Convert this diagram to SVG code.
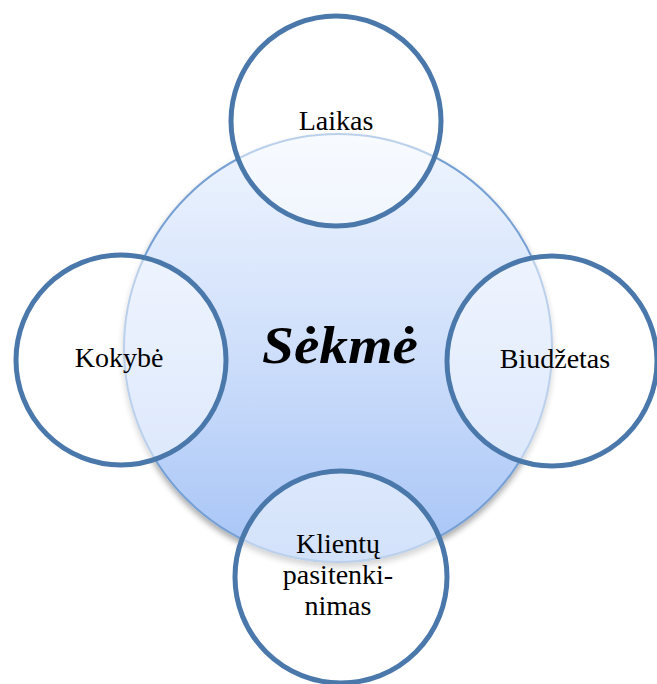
<svg xmlns="http://www.w3.org/2000/svg" width="657" height="684" viewBox="0 0 657 684">
  <defs>
    <linearGradient id="coreFill" x1="0" y1="0" x2="0" y2="1">
      <stop offset="0" stop-color="#eff5fe"/>
      <stop offset="0.5" stop-color="#cfdffb"/>
      <stop offset="1" stop-color="#a6c4f6"/>
    </linearGradient>
    <filter id="softShadow" x="-10%" y="-10%" width="120%" height="125%">
      <feGaussianBlur in="SourceAlpha" stdDeviation="3"/>
      <feOffset dx="0" dy="4" result="blur"/>
      <feComponentTransfer><feFuncA type="linear" slope="0.35"/></feComponentTransfer>
      <feMerge><feMergeNode/><feMergeNode in="SourceGraphic"/></feMerge>
    </filter>
  </defs>
  <style>
    .core { fill: url(#coreFill); stroke: #76a0d4; stroke-width: 2; }
    .ring { fill: #ffffff; fill-opacity: 0.5; stroke: #4a78ab; stroke-width: 5; }
    .label { font-family: "Liberation Serif", "Times New Roman", serif; font-size: 28px; fill: #000; text-anchor: middle; }
    .title { font-family: "Liberation Serif", "Times New Roman", serif; font-size: 52px; font-weight: bold; font-style: italic; fill: #000; text-anchor: middle; }
  </style>

  <rect width="657" height="684" fill="#ffffff"/>

  <g id="success">
    <circle class="core" cx="338" cy="348" r="214" filter="url(#softShadow)"/>
    <text class="title" x="340" y="363" textLength="156" lengthAdjust="spacingAndGlyphs">Sėkmė</text>
  </g>

  <g id="time">
    <circle class="ring" cx="336" cy="121" r="105"/>
    <text class="label" x="336" y="130">Laikas</text>
  </g>

  <g id="quality">
    <circle class="ring" cx="121" cy="360" r="105"/>
    <text class="label" x="119" y="367">Kokybė</text>
  </g>

  <g id="budget">
    <circle class="ring" cx="552" cy="361" r="105"/>
    <text class="label" x="555" y="368">Biudžetas</text>
  </g>

  <g id="satisfaction">
    <circle class="ring" cx="341" cy="577" r="106"/>
    <text class="label" x="338" y="553">Klientų</text>
    <text class="label" x="338" y="584">pasitenki-</text>
    <text class="label" x="338" y="615">nimas</text>
  </g>

  <g id="connectors"/>
</svg>
